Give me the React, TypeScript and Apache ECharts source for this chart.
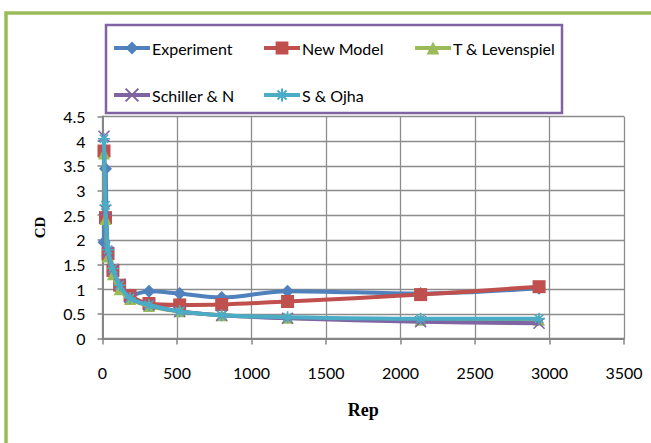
import React, { useEffect, useRef } from "react";
import * as echarts from "echarts";

const rep = [10, 20, 37, 70, 115, 185, 312, 518, 800, 1242, 2135, 2930];
const experiment = [1.95, 3.44, 1.7, 1.36, 1.04, 0.88, 0.96, 0.91, 0.83, 0.96, 0.91, 1.02];
const newModel = [3.8, 2.45, 1.72, 1.38, 1.08, 0.87, 0.71, 0.68, 0.69, 0.75, 0.89, 1.05];
const levenspiel = [3.75, 2.42, 1.66, 1.3, 1.0, 0.8, 0.66, 0.55, 0.47, 0.42, 0.38, 0.38];
const schiller = [4.1, 2.6, 1.75, 1.4, 1.1, 0.83, 0.68, 0.55, 0.47, 0.41, 0.34, 0.31];
const ojha = [4.05, 2.7, 1.8, 1.42, 1.08, 0.82, 0.68, 0.55, 0.47, 0.43, 0.4, 0.4];

const seriesNames = ["Experiment", "New Model", "T & Levenspiel", "Schiller & N", "S & Ojha"];
const seriesValues = [experiment, newModel, levenspiel, schiller, ojha];
const colors = ["#4F81BD", "#C0504D", "#9BBB59", "#8064A2", "#4BACC6"];
const symbols = [
  "diamond",
  "rect",
  "triangle",
  "path://M0,0L10,10M10,0L0,10",
  "path://M5,0L5,10M0,5L10,5M1.5,1.5L8.5,8.5M8.5,1.5L1.5,8.5",
];
const symbolSizes = [13, 13, 12, 11, 12];
const legendPos = [
  [112, 41],
  [262, 41],
  [413, 41],
  [112, 88],
  [262, 88],
];

export default function App() {
  const ref = useRef<HTMLDivElement>(null);
  useEffect(() => {
    if (!ref.current) return;
    const chart = echarts.init(ref.current, null, { renderer: "svg" });
    const font = "Lato, 'Open Sans', sans-serif";
    const series = seriesNames.map((name, k) => {
      const isStroke = k >= 3;
      return {
        name,
        type: "line",
        smooth: 0.35,
        data: rep.map((x, i) => [x, seriesValues[k][i]]),
        symbol: symbols[k],
        symbolSize: symbolSizes[k],
        showSymbol: true,
        lineStyle: { color: colors[k], width: 4 },
        itemStyle: isStroke
          ? { color: colors[k], borderColor: colors[k], borderWidth: 1.6 }
          : { color: colors[k], borderWidth: 0 },
        emphasis: { disabled: true },
        z: 2 + k,
      };
    });
    const legends = seriesNames.map((name, k) => ({
      data: [name],
      left: legendPos[k][0],
      top: legendPos[k][1] - 1,
      orient: "horizontal",
      itemWidth: 36,
      itemHeight: 16,
      itemGap: 0,
      padding: 0,
      selectedMode: false,
      lineStyle: { width: 4 },
      textStyle: { fontFamily: font, fontSize: 16, color: "#000", padding: [0, 0, 0, -3] },
    }));
    const axisLabel = { fontFamily: font, fontSize: 16, color: "#000" };
    chart.setOption({
      animation: false,
      backgroundColor: "#fff",
      color: colors,
      legend: legends,
      grid: { left: 102.5, top: 116.5, right: 27, bottom: 104.5, containLabel: false },
      xAxis: {
        type: "value",
        min: 0,
        max: 3500,
        interval: 500,
        name: "Rep",
        nameLocation: "middle",
        nameGap: 62,
        nameTextStyle: {
          fontFamily: "'Liberation Serif', serif",
          fontWeight: "bold",
          fontSize: 18,
          color: "#000",
        },
        axisLine: { show: true, lineStyle: { color: "#868686", width: 2 } },
        axisTick: { show: true, length: 6, lineStyle: { color: "#868686", width: 1.5 } },
        axisLabel: { ...axisLabel, margin: 26, formatter: (v: number) => String(v) },
        splitLine: { show: true, lineStyle: { color: "#8C8C8C", width: 1.3 } },
      },
      yAxis: {
        type: "value",
        min: 0,
        max: 4.5,
        interval: 0.5,
        name: "CD",
        nameLocation: "middle",
        nameRotate: 90,
        nameGap: 55,
        nameTextStyle: {
          fontFamily: "'Liberation Serif', serif",
          fontWeight: "bold",
          fontSize: 15,
          color: "#000",
        },
        axisLine: { show: true, lineStyle: { color: "#868686", width: 2 } },
        axisTick: { show: true, length: 5, lineStyle: { color: "#868686", width: 1.5 } },
        axisLabel: { ...axisLabel, margin: 17, formatter: (v: number) => String(v) },
        splitLine: { show: true, lineStyle: { color: "#8C8C8C", width: 1.3 } },
      },
      graphic: [
        {
          type: "rect",
          shape: { x: 6, y: 13, width: 700, height: 500 },
          style: { fill: "none", stroke: "#9BBB59", lineWidth: 3.5 },
          silent: true,
          z: 100,
        },
        {
          type: "rect",
          shape: { x: 106, y: 25, width: 456, height: 88 },
          style: { fill: "none", stroke: "#8064A2", lineWidth: 2.5 },
          silent: true,
          z: 100,
        },
      ],
      series,
    });
    return () => chart.dispose();
  }, []);
  return (
    <div
      ref={ref}
      style={{ position: "fixed", left: 0, top: 0, width: 651, height: 443 }}
    />
  );
}
